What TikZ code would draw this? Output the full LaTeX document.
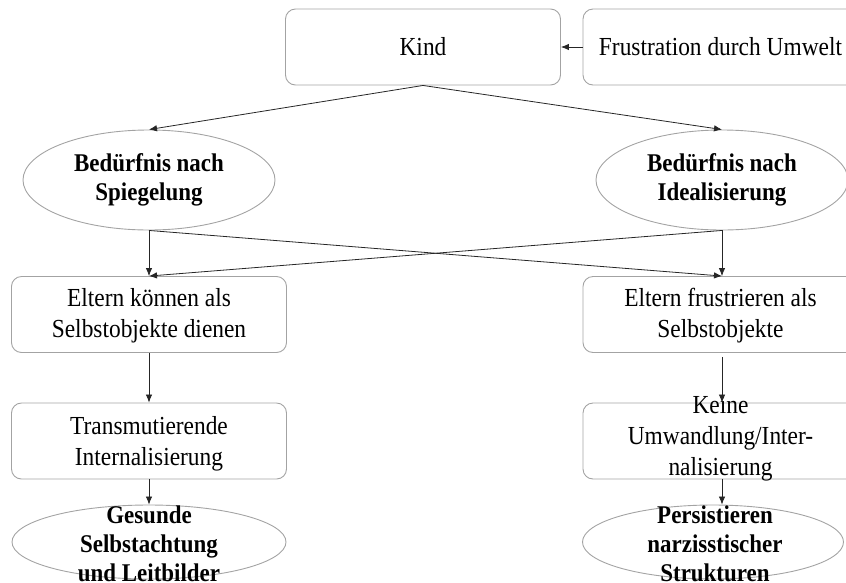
\documentclass[tikz,border=0pt]{standalone}
\usepackage{fontspec}
\setmainfont[FakeStretch=0.9]{Liberation Serif}
\usetikzlibrary{shapes.geometric,arrows.meta}
\definecolor{framegray}{HTML}{A3A3A3}
\definecolor{linkgray}{HTML}{262626}
\begin{document}
\begin{tikzpicture}[x=1pt,y=-1pt,
  txt/.style={font=\fontsize{26}{31}\selectfont, align=center, inner sep=0pt},
  boldtxt/.style={font=\bfseries\fontsize{25.5}{29}\selectfont, align=center, inner sep=0pt},
  box/.style={draw=framegray, line width=0.9pt, rounded corners=10pt, rectangle,
              minimum width=275pt, minimum height=76pt, inner sep=0pt, txt},
  oval/.style={draw=framegray, line width=0.9pt, ellipse, inner sep=0pt, boldtxt},
  link/.style={draw=linkgray, line width=0.8pt, -{Latex[length=8pt,width=6.5pt]}},
]
\useasboundingbox (0,0) rectangle (846,582);
\clip (0,0) rectangle (846,582);

% top row
\node[box] (kind) at (423,47) {Kind};
\node[box] (frust) at (720.5,47) {Frustration durch Umwelt};

% needs
\node[oval, minimum width=252pt, minimum height=100pt] (mirror) at (149,180) {Bedürfnis nach\\Spiegelung};
\node[oval, minimum width=252pt, minimum height=100pt] (ideal) at (722,180) {Bedürfnis nach\\Idealisierung};

% parents
\node[box] (serve) at (149,314.5) {};
\node[txt] (serveT) at (149,315.5) {Eltern können als\\Selbstobjekte dienen};
\node[box] (frustr) at (720.5,314.5) {};
\node[txt] (frustrT) at (720.5,315.5) {Eltern frustrieren als\\Selbstobjekte};

% internalisation
\node[box] (trans) at (149,441) {};
\node[txt] (transT) at (149,443.5) {Transmutierende\\Internalisierung};
\node[box] (none) at (720.5,441) {};
\node[txt] (noneT) at (720.5,438.5) {Keine\\Umwandlung/Inter-\\nalisierung};

% outcomes
\node[oval, minimum width=274pt, minimum height=74pt] (healthy) at (149,542) {};
\node[boldtxt] (healthyT) at (149,543.5) {Gesunde\\Selbstachtung\\und Leitbilder};
\node[oval, minimum width=261pt, minimum height=74pt] (persist) at (713,542) {};
\node[boldtxt] (persistT) at (715,543.5) {Persistieren\\narzisstischer\\Strukturen};

% connectors
\draw[link] (frust.west) -- (kind.east);
\draw[link] (kind.south) -- (mirror.north);
\draw[link] (kind.south) -- (ideal.north);
\draw[link] (mirror.south) -- (serve.north);
\draw[link] (mirror.south) -- (frustr.north -| ideal.south);
\draw[link] (ideal.south) -- (frustr.north -| ideal.south);
\draw[link] (ideal.south) -- (serve.north);
\draw[link] (serve.south) -- (trans.north);
\draw[link, shorten <=4pt] (frustr.south -| ideal.south) -- (none.north -| ideal.south);
\draw[link] (trans.south) -- (healthy.north);
\draw[link] (none.south -| ideal.south) -- (persist.north -| ideal.south);
\end{tikzpicture}
\end{document}
